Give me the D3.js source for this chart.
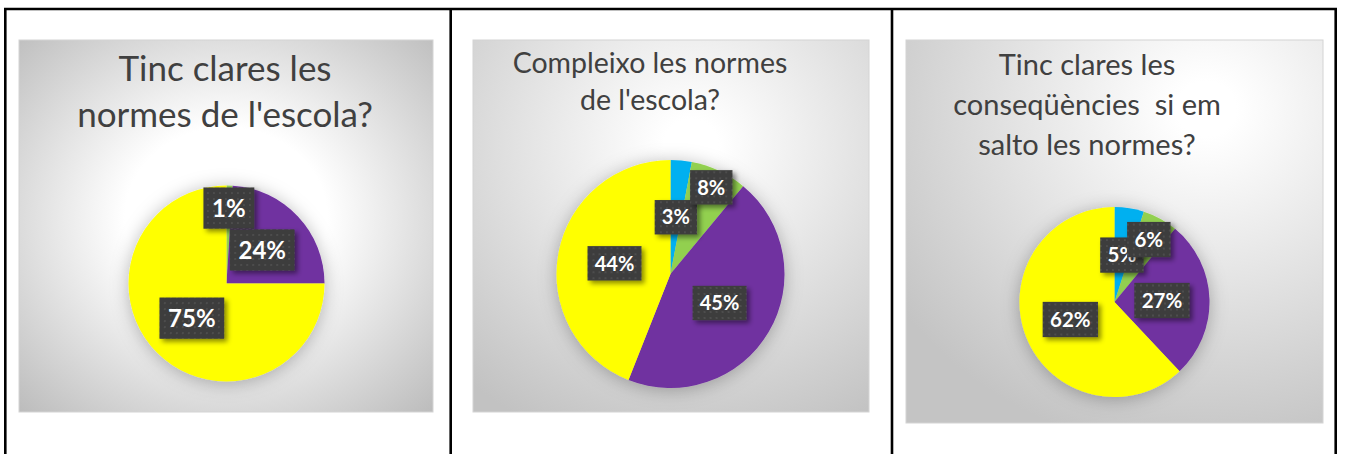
<!DOCTYPE html>
<html>
<head>
<meta charset="utf-8">
<script src="https://cdn.jsdelivr.net/npm/d3@7"></script>
<style>
  body { margin: 0; background: #fff; }
  svg { display: block; }
</style>
</head>
<body>
<div id="viz"></div>
<script>
// categories (slice order, clockwise from 12 o'clock)
var categories = ["Blau", "Verd", "Lila", "Groc"];
var colors = ["#00B0F0", "#92D050", "#7030A0", "#FFFF00"];

// values per chart (percent)
var values1 = [0, 1, 24, 75];
var values2 = [3, 8, 45, 44];
var values3 = [5, 6, 27, 62];

// titles
var title1 = ["Tinc clares les", "normes de l'escola?"];
var title2 = ["Compleixo les normes", "de l'escola?"];
var title3 = ["Tinc clares les", "conseqüències  si em", "salto les normes?"];

var W = 1346, H = 454;

var svg = d3.select("#viz").append("svg")
  .attr("width", W)
  .attr("height", H);

var defs = svg.append("defs");

// dotted fill for the label boxes
var pat = defs.append("pattern")
  .attr("id", "dots")
  .attr("width", 6).attr("height", 6)
  .attr("patternUnits", "userSpaceOnUse");
pat.append("rect").attr("width", 6).attr("height", 6).attr("fill", "#3c3c3c");
pat.append("circle").attr("cx", 3).attr("cy", 3).attr("r", 0.9).attr("fill", "#555");

var fl = defs.append("filter").attr("id", "boxShadow")
  .attr("x", "-30%").attr("y", "-30%").attr("width", "170%").attr("height", "170%");
fl.append("feDropShadow").attr("dx", 3).attr("dy", 3).attr("stdDeviation", 2.5)
  .attr("flood-color", "#000").attr("flood-opacity", 0.45);

var fp = defs.append("filter").attr("id", "pieShadow")
  .attr("x", "-30%").attr("y", "-30%").attr("width", "160%").attr("height", "160%");
fp.append("feDropShadow").attr("dx", 0).attr("dy", 2).attr("stdDeviation", 9)
  .attr("flood-color", "#000").attr("flood-opacity", 0.28);

function grad(id, cx, cy, r, inner, outer) {
  var g = defs.append("radialGradient").attr("id", id)
    .attr("cx", cx).attr("cy", cy).attr("r", r);
  g.append("stop").attr("offset", "0%").attr("stop-color", "#ffffff");
  g.append("stop").attr("offset", inner).attr("stop-color", "#ffffff");
  g.append("stop").attr("offset", "100%").attr("stop-color", outer);
}
grad("bg1", "50%", "48%", "72%", "34%", "#bcbcbc");
grad("bg2", "55%", "28%", "85%", "8%", "#c2c2c2");
grad("bg3", "72%", "18%", "90%", "8%", "#c4c4c4");

// table lines
var lines = svg.append("g").attr("stroke", "#000").attr("stroke-width", 2.6);
lines.append("line").attr("x1", 4).attr("x2", 1337).attr("y1", 9).attr("y2", 9);
[5.3, 450.7, 892, 1335.7].forEach(function(x) {
  lines.append("line").attr("x1", x).attr("x2", x).attr("y1", 8).attr("y2", H);
});

var charts = [
  { values: values1, title: title1, bg: "bg1",
    box: [19, 40, 414, 372], titleX: 225, titleY: 81, titleSize: 35, lineH: 46,
    cx: 226.5, cy: 283.5, r: 98, labelR: [0.5, 0.77, 0.5, 0.5], labelSize: 24 },
  { values: values2, title: title2, bg: "bg2",
    box: [473, 40, 396, 372], titleX: 650, titleY: 73, titleSize: 28.5, lineH: 37,
    cx: 670.5, cy: 274, r: 114, labelR: [0.5, 0.84, 0.5, 0.5], labelSize: 20 },
  { values: values3, title: title3, bg: "bg3",
    box: [906, 40, 417, 383], titleX: 1087, titleY: 75, titleSize: 29, lineH: 40,
    cx: 1114.5, cy: 302, r: 95, labelR: [0.5, 0.75, 0.5, 0.5], labelSize: 20.5 }
];

var pie = d3.pie().sort(null).value(function(d) { return d; });

charts.forEach(function(c) {
  var g = svg.append("g");

  g.append("rect")
    .attr("x", c.box[0]).attr("y", c.box[1])
    .attr("width", c.box[2]).attr("height", c.box[3])
    .attr("fill", "url(#" + c.bg + ")")
    .attr("stroke", "#d4d4d4").attr("stroke-width", 1);

  // title
  g.append("text")
    .attr("text-anchor", "middle")
    .attr("font-family", "Lato, 'Open Sans', sans-serif")
    .attr("font-size", c.titleSize)
    .attr("fill", "#404040")
    .style("white-space", "pre")
    .selectAll("tspan")
    .data(c.title)
    .enter().append("tspan")
      .attr("x", c.titleX)
      .attr("y", function(d, i) { return c.titleY + i * c.lineH; })
      .text(function(d) { return d; });

  var arcs = pie(c.values);
  var arc = d3.arc().innerRadius(0).outerRadius(c.r);

  var pg = g.append("g")
    .attr("transform", "translate(" + c.cx + "," + c.cy + ")");

  pg.append("g").attr("filter", "url(#pieShadow)")
    .selectAll("path")
    .data(arcs)
    .enter().append("path")
      .attr("d", arc)
      .attr("fill", function(d, i) { return colors[i]; });

  // data labels
  var lab = pg.selectAll("g.lab")
    .data(arcs.filter(function(d) { return d.value > 0; }))
    .enter().append("g")
      .attr("class", "lab")
      .attr("transform", function(d) {
        var k = c.r * c.labelR[d.index];
        var p = d3.arc().innerRadius(k).outerRadius(k).centroid(d);
        return "translate(" + p[0] + "," + p[1] + ")";
      });

  var bw = c.labelSize * 0.8, bh = c.labelSize * 1.72;
  lab.each(function(d) {
    var el = d3.select(this);
    var t = el.append("text")
      .attr("text-anchor", "middle")
      .attr("dy", "0.36em")
      .attr("font-family", "Lato, 'Open Sans', sans-serif")
      .attr("font-weight", "bold")
      .attr("font-size", c.labelSize)
      .attr("fill", "#fff")
      .text(d.value + "%");
    var w = t.node().getComputedTextLength();
    el.insert("rect", "text")
      .attr("x", -w / 2 - bw * 0.45)
      .attr("y", -bh / 2)
      .attr("width", w + bw * 0.9)
      .attr("height", bh)
      .attr("fill", "url(#dots)")
      .attr("filter", "url(#boxShadow)");
  });
});
</script>
</body>
</html>
